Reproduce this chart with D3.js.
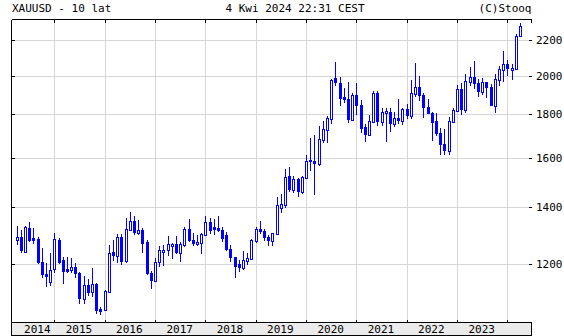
<!DOCTYPE html>
<html><head><meta charset="utf-8">
<script src="https://cdn.jsdelivr.net/npm/d3@7"></script>
<style>
body{margin:0;background:#fff}
svg{display:block}
text{font-family:"DejaVu Sans Mono",monospace;font-size:11px;fill:#000}
</style>
</head><body>
<svg id="c" width="564" height="336"></svg>
<script>
const title = "XAUUSD - 10 lat";
const dateText = "4 Kwi 2024 22:31 CEST";
const credit = "(C)Stooq";
const firstMonth = new Date(2014, 3, 1);
const months = d3.timeMonth.range(firstMonth, new Date(2024, 4, 1));
const yearLabels = ["2014","2015","2016","2017","2018","2019","2020","2021","2022","2023"];
const gridYears = [2015,2016,2017,2018,2019,2020,2021,2022,2023,2024];
const priceTicks = [1200,1400,1600,1800,2000,2200];

const open = [1284,1291,1245,1323,1287,1286,1207,1170,1148,
 1187,1281,1214,1185,1185,1191,1172,1094,1134,1115,1138,1062,
 1062,1115,1240,1230,1291,1214,1320,1351,1311,1316,1275,1172,
 1150,1210,1248,1250,1267,1268,1241,1268,1320,1280,1271,1274,
 1303,1345,1326,1325,1316,1298,1251,1225,1201,1191,1213,1220,
 1282,1320,1313,1292,1283,1305,1400,1414,1522,1470,1512,1465,
 1518,1592,1588,1577,1686,1731,1781,1985,1962,1887,1878,1777,
 1898,1847,1738,1708,1769,1907,1770,1813,1814,1757,1783,1774,
 1829,1797,1909,1937,1897,1838,1807,1767,1711,1660,1633,1768,
 1824,1928,1827,1969,1990,1962,1919,1965,1940,1849,1983,2036,
 2063,2039,2044,2231];
const high = [1331,1317,1332,1347,1323,1293,1253,1203,1236,
 1305,1289,1225,1225,1220,1203,1175,1164,1153,1187,1140,1068,
 1118,1264,1281,1304,1303,1362,1381,1367,1354,1323,1280,1180,
 1220,1262,1264,1295,1272,1295,1275,1327,1357,1306,1300,1306,
 1366,1361,1356,1366,1326,1310,1265,1225,1214,1245,1236,1284,
 1326,1348,1322,1300,1305,1439,1452,1553,1560,1525,1516,1524,
 1611,1690,1704,1747,1767,1795,1980,2075,1993,1935,1965,1906,
 1959,1871,1756,1798,1916,1916,1832,1832,1834,1814,1877,1831,
 1853,1974,2070,1998,1910,1877,1814,1808,1735,1729,1786,1833,
 1950,1959,2009,2048,2079,1983,1987,1966,1953,2009,2052,2140,
 2088,2065,2236,2306];
const low = [1268,1242,1240,1277,1272,1203,1160,1132,1134,
 1176,1203,1141,1176,1176,1160,1080,1080,1104,1101,1053,1049,
 1060,1112,1214,1208,1200,1208,1316,1303,1303,1242,1169,1125,
 1147,1195,1198,1232,1220,1236,1210,1262,1277,1263,1263,1238,
 1302,1307,1303,1312,1277,1248,1211,1160,1180,1184,1200,1217,
 1276,1305,1281,1266,1266,1301,1382,1400,1464,1458,1445,1454,
 1517,1550,1451,1568,1670,1671,1757,1950,1848,1860,1765,1775,
 1802,1717,1677,1705,1765,1750,1750,1675,1722,1746,1759,1753,
 1781,1781,1890,1872,1787,1805,1680,1705,1616,1617,1617,1765,
 1823,1804,1810,1950,1932,1893,1903,1885,1847,1810,1950,1973,
 2005,1984,2039,2228];
const close = [1292,1248,1326,1281,1282,1207,1169,1164,1182,
 1284,1208,1179,1179,1191,1171,1094,1134,1114,1138,1060,1058,
 1115,1236,1230,1292,1210,1319,1351,1311,1317,1272,1172,1150,
 1208,1248,1249,1267,1268,1241,1268,1320,1280,1270,1275,1303,
 1345,1318,1322,1316,1290,1251,1223,1195,1191,1214,1222,1282,
 1320,1313,1292,1283,1305,1409,1413,1520,1470,1512,1465,1518,
 1589,1585,1577,1686,1730,1781,1975,1966,1883,1878,1777,1898,
 1847,1734,1708,1769,1907,1770,1814,1815,1757,1783,1774,1829,
 1797,1909,1937,1897,1837,1807,1765,1711,1660,1633,1768,1824,
 1928,1827,1969,1990,1962,1919,1965,1940,1849,1983,2036,2063,
 2039,2044,2229,2290];

const W = 564, H = 336;
const L = 11.5, R = 531.5, T = 19.5, B = 322.5;
const blue = "#0000ff", gridC = "#d6d6d6";

const svg = d3.select("#c");
const x = d3.scaleLinear().domain([0, months.length - 1]).range([16.55, 519.95]);
const y = d3.scaleLog().domain([1023.7, 2324.6]).range([323, 20]);
const px = v => Math.round(v) + 0.5;
const monthIndex = yr => d3.timeMonth.count(firstMonth, new Date(yr, 0, 1));

// grid
svg.append("g").selectAll("line").data(priceTicks).join("line")
  .attr("x1", L).attr("x2", R - 3).attr("y1", d => px(y(d))).attr("y2", d => px(y(d)))
  .attr("stroke", gridC).attr("stroke-width", 1).attr("shape-rendering", "crispEdges");
svg.append("g").selectAll("line").data(gridYears).join("line")
  .attr("x1", d => px(x(monthIndex(d)))).attr("x2", d => px(x(monthIndex(d))))
  .attr("y1", T).attr("y2", B)
  .attr("stroke", gridC).attr("stroke-width", 1).attr("shape-rendering", "crispEdges");

// candles
const idx = d3.range(months.length);
const g = svg.append("g").attr("shape-rendering", "crispEdges");
g.selectAll("line").data(idx).join("line")
  .attr("x1", i => px(x(i))).attr("x2", i => px(x(i)))
  .attr("y1", i => Math.round(y(high[i]))).attr("y2", i => Math.round(y(low[i])) + 1)
  .attr("stroke", blue).attr("stroke-width", 1);
g.selectAll("rect").data(idx).join("rect")
  .each(function(i){
    const up = close[i] >= open[i];
    const c = Math.round(x(i));
    const yt = Math.round(y(Math.max(open[i], close[i])));
    const yb = Math.round(y(Math.min(open[i], close[i])));
    const s = d3.select(this);
    if (up) {
      s.attr("x", c - 0.5).attr("width", 2).attr("y", yt + 0.5).attr("height", Math.max(yb - yt, 1) + 1)
       .attr("fill", "#fff").attr("stroke", blue).attr("stroke-width", 1);
    } else {
      s.attr("x", c - 1).attr("width", 3).attr("y", yt).attr("height", Math.max(yb - yt, 1) + 1)
       .attr("fill", blue);
    }
  });

// frame
const f = svg.append("g").attr("stroke", "#000").attr("stroke-width", 1).attr("shape-rendering", "crispEdges");
f.append("line").attr("x1", L).attr("x2", R).attr("y1", T).attr("y2", T);
f.append("line").attr("x1", L).attr("x2", L).attr("y1", T).attr("y2", B);
f.append("line").attr("x1", R).attr("x2", R).attr("y1", T).attr("y2", T + 3);
// ticks at top & bottom
gridYears.forEach(yr => {
  const xx = px(x(monthIndex(yr)));
  f.append("line").attr("x1", xx).attr("x2", xx).attr("y1", T).attr("y2", T + 3);
  f.append("line").attr("x1", xx).attr("x2", xx).attr("y1", B - 3).attr("y2", B);
});
priceTicks.forEach(v => {
  const yy = px(y(v));
  f.append("line").attr("x1", L).attr("x2", L + 3).attr("y1", yy).attr("y2", yy);
  f.append("line").attr("x1", R - 3).attr("x2", R).attr("y1", yy).attr("y2", yy);
});
// bottom band
svg.append("rect").attr("x", L).attr("y", B).attr("width", R - L).attr("height", 13)
  .attr("fill", "#ebebeb").attr("stroke", "#000").attr("shape-rendering", "crispEdges");

// texts
svg.append("text").attr("x", 12).attr("y", 11.5).text(title);
svg.append("text").attr("x", 225.5).attr("y", 11.5).text(dateText);
svg.append("text").attr("x", 531.5).attr("y", 11.5).attr("text-anchor", "end").text(credit);

svg.append("g").selectAll("text").data(priceTicks).join("text")
  .attr("x", 536).attr("y", d => y(d) + 4).text(d => d);

svg.append("g").selectAll("text").data(yearLabels).join("text")
  .attr("text-anchor", "middle")
  .attr("x", (d, k) => {
    const yr = +d;
    const xe = x(monthIndex(yr + 1));
    if (k === 0) return xe - 17;
    return (x(monthIndex(yr)) + xe) / 2 - 0.5;
  })
  .attr("y", 333).text(d => d);
</script>
</body></html>
